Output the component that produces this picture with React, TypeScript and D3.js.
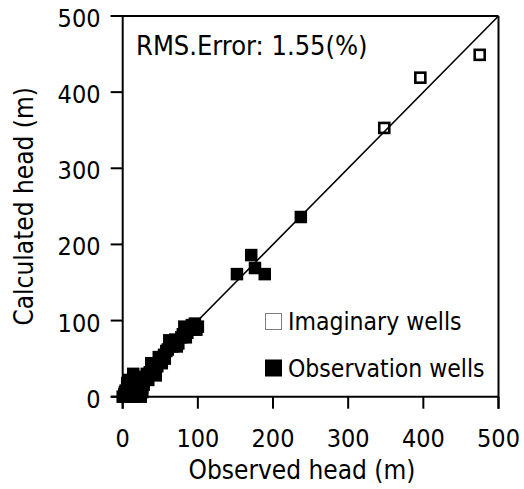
import React from "react";
import * as d3 from "d3";

const xTicks = [0, 100, 200, 300, 400, 500];
const yTicks = [0, 100, 200, 300, 400, 500];

// Imaginary wells: observed vs calculated head
const imaginaryObserved = [348, 396, 475];
const imaginaryCalculated = [353, 419, 449];

// Observation wells: observed vs calculated head
const observationObserved = [
  0, 2, 4, 5, 6, 8, 10, 10, 12, 14, 15, 16, 18, 20, 22, 24, 26, 14, 18, 24, 28, 30, 34, 36, 38, 42, 44,
  50, 55, 52, 58, 62, 66, 70, 74, 78, 82, 86, 90, 96, 100, 152, 171, 176, 189, 237,
  3, 7, 9, 12, 16, 20, 22, 19, 6, 8, 26, 28, 32, 40, 46, 48, 56, 60, 68, 72, 80, 84, 92, 98,
];
const observationCalculated = [
  0, 3, 8, 1, 12, 5, 2, 14, 8, 0, 18, 4, 10, 2, 14, 0, 6, 30, 24, 20, 16, 26, 22, 32, 44, 36, 28,
  48, 55, 44, 60, 74, 66, 75, 70, 78, 92, 84, 88, 96, 92, 161, 186, 169, 161, 236,
  6, 10, 0, 3, 12, 8, 4, 16, 18, 22, 12, 22, 30, 42, 40, 52, 50, 62, 72, 66, 82, 78, 94, 88,
];

const rmsText = "RMS.Error: 1.55(%)";
const xTitle = "Observed head (m)";
const yTitle = "Calculated head (m)";
const legendLabels = ["Imaginary wells", "Observation wells"];

const FONT = "'DejaVu Sans Condensed', 'DejaVu Sans', sans-serif";

export default function App() {
  const W = 524;
  const H = 489;
  const x = d3.scaleLinear().domain([0, 500]).range([122.7, 498.5]);
  const y = d3.scaleLinear().domain([0, 500]).range([396.7, 16]);
  const left = x(0);
  const right = x(500);
  const top = y(500);
  const bottom = y(0);
  const tick = 12;
  const line = d3.line<number>().x((v) => x(v)).y((v) => y(v));

  const obs = observationObserved.map((v, i) => [v, observationCalculated[i]]);
  const img = imaginaryObserved.map((v, i) => [v, imaginaryCalculated[i]]);
  const ms = 12.5;
  const hs = 10;

  return (
    <svg
      width={W}
      height={H}
      style={{ position: "absolute", left: 0, top: 0, background: "#fff" }}
      fontFamily={FONT}
    >
      <rect x={0} y={0} width={W} height={H} fill="#fff" />
      <path d={line([0, 500]) || ""} stroke="#000" strokeWidth={1.6} fill="none" />

      {obs.map(([a, b], i) => (
        <rect key={"o" + i} x={x(a) - ms / 2} y={y(b) - ms / 2} width={ms} height={ms} fill="#000" />
      ))}
      {img.map(([a, b], i) => (
        <rect
          key={"m" + i}
          x={x(a) - hs / 2}
          y={y(b) - hs / 2}
          width={hs}
          height={hs}
          fill="none"
          stroke="#000"
          strokeWidth={2.6}
        />
      ))}

      <g stroke="#000" strokeWidth={2} fill="none">
        <line x1={left - tick} x2={right} y1={top} y2={top} />
        <line x1={right} x2={right} y1={top} y2={bottom + tick} />
        <line x1={left - tick} x2={right} y1={bottom} y2={bottom} />
        <line x1={left} x2={left} y1={top} y2={bottom + tick} />
        {xTicks.map((t) => (
          <line key={"xt" + t} x1={x(t)} x2={x(t)} y1={bottom} y2={bottom + tick} />
        ))}
        {yTicks.map((t) => (
          <line key={"yt" + t} x1={left - tick} x2={left} y1={y(t)} y2={y(t)} />
        ))}
      </g>

      {xTicks.map((t) => (
        <text key={"xl" + t} x={x(t)} y={447} textAnchor="middle" fontSize={25} fill="#000">
          {t}
        </text>
      ))}
      {yTicks.map((t) => (
        <text key={"yl" + t} x={100.5} y={y(t) + 11} textAnchor="end" fontSize={25} fill="#000">
          {t}
        </text>
      ))}

      <text x={302} y={479} textAnchor="middle" fontSize={26} fill="#000">
        {xTitle}
      </text>
      <text
        transform={`translate(33, ${(top + bottom) / 2}) rotate(-90)`}
        textAnchor="middle"
        fontSize={26}
        fill="#000"
      >
        {yTitle}
      </text>

      <text x={136} y={55} fontSize={27} fill="#000">
        {rmsText}
      </text>

      <rect x={265.5} y={313.5} width={16} height={16} fill="#fff" stroke="#7f7f7f" strokeWidth={1} />
      <text x={288} y={330} fontSize={24.5} fill="#000">
        {legendLabels[0]}
      </text>
      <rect x={265} y={359.5} width={17} height={17} fill="#000" />
      <text x={288} y={376.5} fontSize={24.5} fill="#000">
        {legendLabels[1]}
      </text>
    </svg>
  );
}
